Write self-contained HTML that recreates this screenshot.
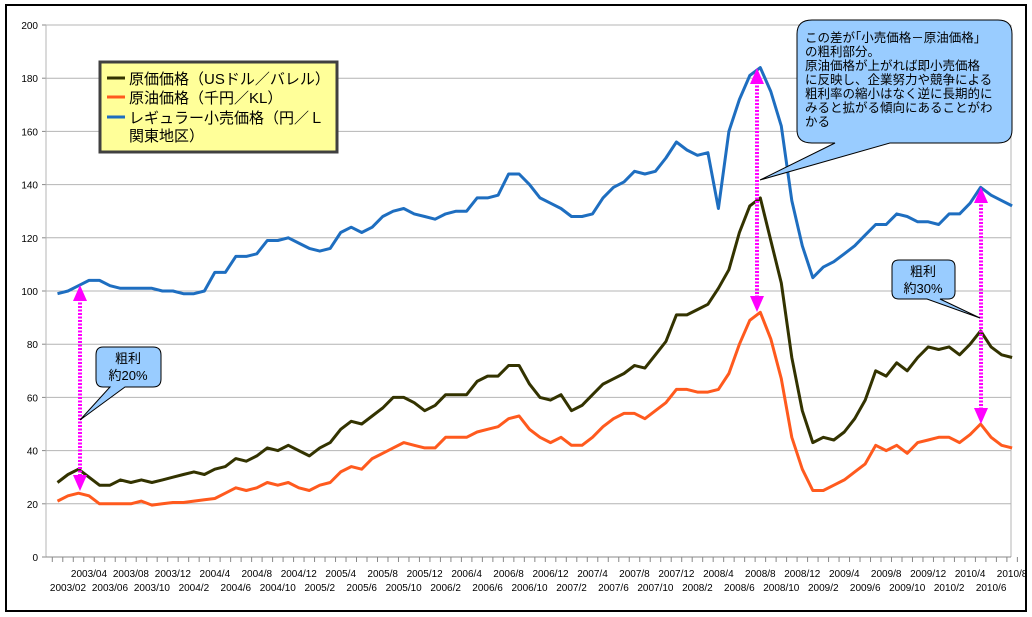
<!DOCTYPE html>
<html><head><meta charset="utf-8"><style>
html,body{margin:0;padding:0;background:#fff;}
svg{display:block;}
text{font-family:"Liberation Sans","Noto Sans CJK JP",sans-serif;}
</style></head><body>
<svg id="s" width="1032" height="617" xmlns="http://www.w3.org/2000/svg">
<rect x="0" y="0" width="1032" height="617" fill="#fff"/>
<rect x="6" y="5" width="1020" height="606" fill="#fff" stroke="#000" stroke-width="2"/>
<g id="grid"></g>
<g id="series"></g>
<defs>
<marker id="ah" markerWidth="4" markerHeight="4" refX="2" refY="2" orient="auto" markerUnits="strokeWidth"><path d="M0,0 L4,2 L0,4 z" fill="#ff00ff"/></marker>
</defs>
<g id="arrows"></g>
<!-- legend -->
<rect x="100" y="62" width="237" height="90" fill="#ffff99" stroke="#404040" stroke-width="3"/>
<line x1="107" y1="78" x2="125" y2="78" stroke="#333300" stroke-width="3"/>
<line x1="107" y1="97" x2="125" y2="97" stroke="#ff5a1e" stroke-width="3"/>
<line x1="107" y1="117" x2="125" y2="117" stroke="#1e6ec0" stroke-width="3"/>
<text x="129" y="84" font-size="15">原価価格（USドル／バレル）</text>
<text x="129" y="103" font-size="15">原油価格（千円／KL）</text>
<text x="129" y="123" font-size="15">レギュラー小売価格（円／Ｌ</text>
<text x="129" y="141" font-size="15">関東地区）</text>
<!-- callouts -->
<path d="M812,20 H998 Q1012,20 1012,34 V130 Q1012,143 998,143 H890 L760,180 L835,143 H812 Q797,143 797,130 V34 Q797,20 812,20 Z" fill="#99ccff" stroke="#000" stroke-width="1"/>
<g font-size="12.5">
<text x="805" y="42">この差が｢小売価格－原油価格｣</text>
<text x="805" y="56">の粗利部分。</text>
<text x="805" y="70">原油価格が上がれば即小売価格</text>
<text x="805" y="84">に反映し、企業努力や競争による</text>
<text x="805" y="98">粗利率の縮小はなく逆に長期的に</text>
<text x="805" y="112">みると拡がる傾向にあることがわ</text>
<text x="805" y="126">かる</text>
</g>
<path d="M103,347 H153 Q161,347 161,355 V379 Q161,387 153,387 H125 L80,420 L110,387 H103 Q96,387 96,379 V355 Q96,347 103,347 Z" fill="#99ccff" stroke="#000" stroke-width="1"/>
<text x="128" y="363" font-size="13" text-anchor="middle">粗利</text>
<text x="128" y="380" font-size="13" text-anchor="middle">約20%</text>
<path d="M899,260 H948 Q955,260 955,267 V292 Q955,299 948,299 H940 L980,318 L927,299 H899 Q892,299 892,292 V267 Q892,260 899,260 Z" fill="#99ccff" stroke="#000" stroke-width="1"/>
<text x="923" y="276" font-size="13" text-anchor="middle">粗利</text>
<text x="923" y="293" font-size="13" text-anchor="middle">約30%</text>
</svg>
<script>
var NS="http://www.w3.org/2000/svg";
function el(p,t,a,txt){var e=document.createElementNS(NS,t);for(var k in a)e.setAttribute(k,a[k]);if(txt!==undefined)e.textContent=txt;document.getElementById(p).appendChild(e);return e;}
function Y(v){return 557-2.66*v;}
function X(i){return 57.5+10.49*i;}
for(var v=0;v<=200;v+=20){var y=Y(v);
 if(v>0)el("grid","line",{x1:46,y1:y,x2:1011,y2:y,stroke:"#b4b4b4","stroke-width":1});
 el("grid","line",{x1:42,y1:y,x2:46,y2:y,stroke:"#888"});
 el("grid","text",{x:38,y:y+4,"font-size":10,"text-anchor":"end"},String(v));}
el("grid","line",{x1:46,y1:25,x2:46,y2:557,stroke:"#b4b4b4"});
el("grid","line",{x1:1011,y1:25,x2:1011,y2:557,stroke:"#b4b4b4"});
el("grid","line",{x1:46,y1:557,x2:1011,y2:557,stroke:"#888"});
for(var i=0;i<=92;i++){var x=52.3+10.49*i;el("grid","line",{x1:x,y1:557,x2:x,y2:562,stroke:"#888"});}
for(var i=1;i<92;i+=2){var yr=2003+Math.floor(i/12),m=i%12+1;
 var lab=yr+"/"+((yr===2003)?(m<10?"0"+m:m):m);
 var row=((i-1)/2)%2===0?1:0;
 el("grid","text",{x:X(i),y:row?591:577,"font-size":10,"text-anchor":"middle"},lab);}
var blue=[99,100,102,104,104,102,101,101,101,101,100,100,99,99,100,107,107,113,113,114,119,119,120,118,116,115,116,122,124,122,124,128,130,131,129,128,127,129,130,130,135,135,136,144,144,140,135,133,131,128,128,129,135,139,141,145,144,145,150,156,153,151,152,131,160,172,181,184,175,162,134,117,105,109,111,114,117,121,125,125,129,128,126,126,125,129,129,133,139,136,134,132];
var green=[28,31,33,30,27,27,29,28,29,28,29,30,31,32,31,33,34,37,36,38,41,40,42,40,38,41,43,48,51,50,53,56,60,60,58,55,57,61,61,61,66,68,68,72,72,65,60,59,61,55,57,61,65,67,69,72,71,76,81,91,91,93,95,101,108,122,132,135,119,103,75,55,43,45,44,47,52,59,70,68,73,70,75,79,78,79,76,80,85,79,76,75];
var orange=[21,23,24,23,20,20,20,20,21,19.5,20,20.5,20.5,21,21.5,22,24,26,25,26,28,27,28,26,25,27,28,32,34,33,37,39,41,43,42,41,41,45,45,45,47,48,49,52,53,48,45,43,45,42,42,45,49,52,54,54,52,55,58,63,63,62,62,63,69,80,89,92,82,67,45,33,25,25,27,29,32,35,42,40,42,39,43,44,45,45,43,46,50,45,42,41];
function line(d,c){el("series","polyline",{points:d.map(function(v,i){return X(i).toFixed(1)+","+Y(v).toFixed(1)}).join(" "),fill:"none",stroke:c,"stroke-width":3,"stroke-linejoin":"round"});}
line(orange,"#ff5a1e");line(green,"#333300");line(blue,"#1e6ec0");
function arr(x,y1,y2){
 el("arrows","line",{x1:x,y1:y1+14,x2:x,y2:y2-14,stroke:"#ff00ff","stroke-width":4,"stroke-dasharray":"2,1.5"});
 el("arrows","path",{d:"M"+(x-7)+","+(y1+16)+" L"+x+","+y1+" L"+(x+7)+","+(y1+16)+" Z",fill:"#ff00ff"});
 el("arrows","path",{d:"M"+(x-7)+","+(y2-16)+" L"+x+","+y2+" L"+(x+7)+","+(y2-16)+" Z",fill:"#ff00ff"});}
arr(80,285,491);arr(757,68,312);arr(981,187,424);
</script>
</body></html>
